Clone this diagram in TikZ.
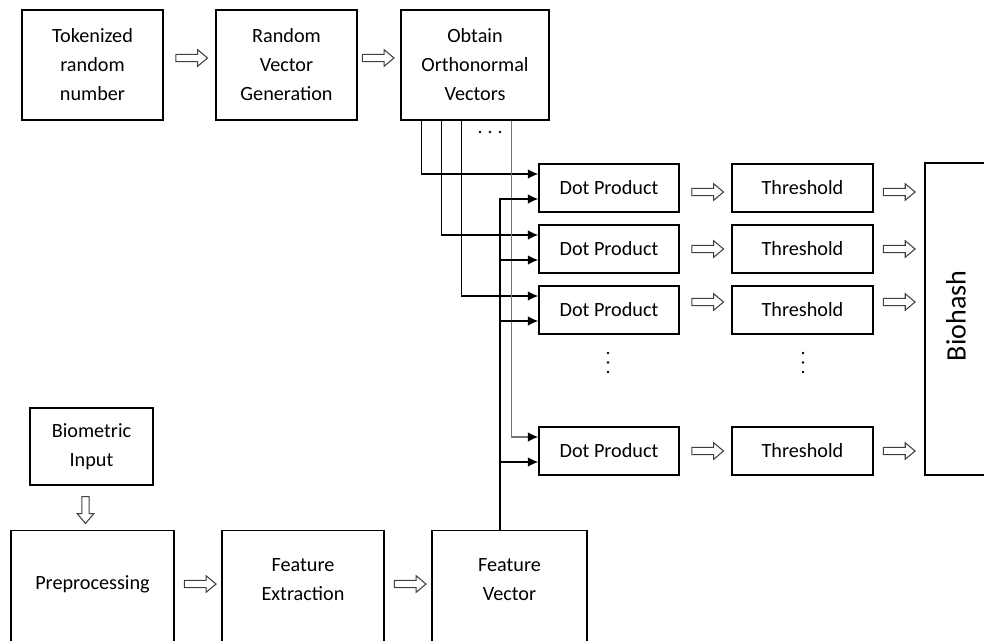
\documentclass[tikz,border=0pt]{standalone}
\usepackage{fontspec}
\setmainfont{Carlito}
\usetikzlibrary{arrows.meta, calc, positioning, shapes.arrows}

\tikzset{
  blk/.style={draw, line width=0.8pt, align=center, inner sep=0pt,
    font=\fontsize{11.5}{16.5}\selectfont},
  txt/.style={align=center, inner sep=0pt, font=\fontsize{11.5}{16.5}\selectfont},
  conn/.style={line width=0.8pt, -{Latex[length=6pt,width=5.5pt]}},
  harrow/.style={single arrow, draw=black!75, line width=0.6pt, inner xsep=0pt,
    inner ysep=1.8pt, minimum height=18pt, single arrow head extend=2.6pt,
    single arrow tip angle=80},
}

\begin{document}
\begin{tikzpicture}[x=0.02cm, y=-0.02cm]
\useasboundingbox (0,0) rectangle (984,640);
\clip (0,0) rectangle (984,640);

% top row
\node[blk, minimum width=2.82cm, minimum height=2.2cm] (token) at (92.5,65) {Tokenized\\random\\number};
\node[blk, minimum width=2.82cm, minimum height=2.2cm] (randvec) at (286.5,65) {Random\\Vector\\Generation};
\node[blk, minimum width=2.96cm, minimum height=2.2cm] (ortho) at (475,65) {Obtain\\Orthonormal\\Vectors};

\path ($(token.east)+(0,-7)$) -- node[harrow] (ha1) {} ($(randvec.west)+(0,-7)$);
\path ($(randvec.east)+(0,-7)$) -- node[harrow, xshift=-1.7pt] (ha2) {} ($(ortho.west)+(0,-7)$);

% dot products, thresholds
\foreach \i/\y in {1/188, 2/249, 3/310, 4/451} {
  \node[blk, minimum width=2.8cm, minimum height=0.96cm] (dot\i) at (609,\y) {Dot Product};
  \node[blk, minimum width=2.82cm, minimum height=0.96cm] (thr\i) at (802.5,\y) {Threshold};
}
\node[blk, minimum width=1.5cm, minimum height=6.24cm] (bio) at (962.5,319) {};
\node[rotate=90, inner sep=0pt, font=\fontsize{16}{19}\selectfont] (biolbl) at (956,316) {Biohash};

\foreach \i/\dy in {1/4, 2/0, 3/-8, 4/0} {
  \path ($(dot\i.east)+(0,\dy)$) -- node[harrow] (hd\i) {} ($(thr\i.west)+(0,\dy)$);
  \path ($(thr\i.east)+(0,\dy)$) -- node[harrow, xshift=-1.1pt] (ht\i) {} ($(thr\i.east -| bio.west)+(0,\dy)$);
}

% dots
\foreach \x in {608,803}
  \foreach \y in {353,362.5,372}
    \fill (\x,\y) circle (1.3);
\foreach \x in {480,490,500}
  \fill (\x,132) circle (1.3);

% lower row
\node[blk, minimum width=2.46cm, minimum height=1.54cm] (bioin) at (91.5,446.5) {Biometric\\Input};
\node[blk, minimum width=3.26cm, minimum height=2.4cm, anchor=north] (prep) at (92.5,530) {};
\node[txt] (preplbl) at (92.5,584) {Preprocessing};
\node[blk, minimum width=3.24cm, minimum height=2.4cm, anchor=north] (fext) at (303,530) {};
\node[txt] (fextlbl) at (303,580) {Feature\\Extraction};
\node[blk, minimum width=3.1cm, minimum height=2.4cm, anchor=north] (fvec) at (509.5,530) {};
\node[txt] (fveclbl) at (509.5,580) {Feature\\Vector};

\path ($(bioin.south)+(-6,0)$) -- node[harrow, minimum height=15.3pt, rotate=-90] (hb) {} ($(prep.north)+(-7,0)$);
\path (prep.east |- preplbl) -- node[harrow] (hp) {} (fext.west |- preplbl);
\path (fext.east |- preplbl) -- node[harrow] (hf) {} (fvec.west |- preplbl);

% orthonormal vectors into dot products
\draw[conn] ($(ortho.south west)+(21,0)$) |- ($(dot1.west)+(0,-14)$);
\draw[conn] ($(ortho.south west)+(41,0)$) |- ($(dot2.west)+(0,-14)$);
\draw[conn] ($(ortho.south west)+(61,0)$) |- ($(dot3.west)+(0,-14)$);
\draw[line width=0.8pt, black!55, -{Latex[length=6pt,width=5.5pt,color=black]}]
  ($(ortho.south west)+(111,0)$) |- ($(dot4.west)+(0,-14)$);

% feature vector into dot products
\coordinate (fvtop) at ($(fvec.north)+(-9.5,0)$);
\foreach \i in {1,...,4}
  \coordinate (in\i) at ($(dot\i.west)+(0,11)$);
\draw[conn] (fvtop) |- (in1);
\foreach \i in {2,3,4}
  \draw[conn] (fvtop |- in\i) -- (in\i);
\end{tikzpicture}
\end{document}
